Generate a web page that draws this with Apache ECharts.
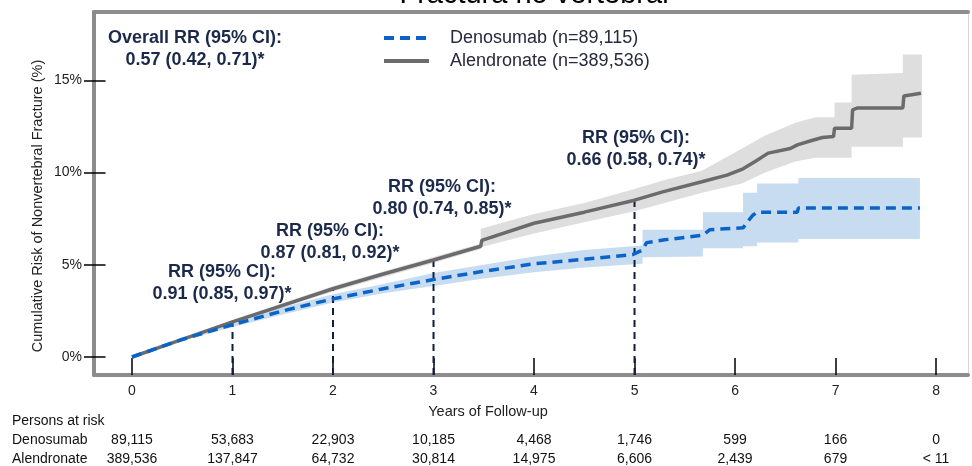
<!DOCTYPE html>
<html>
<head>
<meta charset="utf-8">
<script src="https://cdn.jsdelivr.net/npm/echarts@6/dist/echarts.min.js"></script>
<style>html,body{margin:0;padding:0;background:#fff}#c{width:972px;height:466px}</style>
</head>
<body>
<div id="c"></div>
<script>
// ---- data ----
const yearTicks = [0, 1, 2, 3, 4, 5, 6, 7, 8];
const riskTicks = [0, 5, 10, 15];
const riskDen = ['89,115', '53,683', '22,903', '10,185', '4,468', '1,746', '599', '166', '0'];
const riskAln = ['389,536', '137,847', '64,732', '30,814', '14,975', '6,606', '2,439', '679', '< 11'];

const denTime = [0, 0.5, 1, 1.5, 2, 2.5, 3, 3.5, 4, 4.5, 4.98, 5.08, 5.12, 5.3, 5.68, 5.75, 6.08, 6.12, 6.18, 6.22, 6.62, 6.63, 7.84];
const denRisk = [0, 0.95, 1.75, 2.5, 3.15, 3.7, 4.2, 4.65, 5.05, 5.3, 5.55, 5.8, 6.2, 6.35, 6.6, 6.9, 7.0, 7.3, 7.7, 7.85, 7.85, 8.07, 8.07];

const alnTime = [0, 0.5, 1, 1.5, 2, 2.5, 3, 3.47, 3.48, 4, 4.5, 5, 5.28, 5.67, 5.92, 6.08, 6.2, 6.33, 6.55, 6.62, 6.78, 6.87, 6.98, 6.99, 7.16, 7.17, 7.22, 7.67, 7.68, 7.85];
const alnRisk = [0, 0.95, 1.9, 2.8, 3.7, 4.5, 5.26, 6.0, 6.32, 7.25, 7.85, 8.5, 8.95, 9.5, 9.86, 10.2, 10.6, 11.05, 11.3, 11.5, 11.76, 11.9, 11.95, 12.4, 12.4, 13.4, 13.5, 13.5, 14.15, 14.3];

const denBandTime = [0, 0.5, 1, 1.5, 2, 2.5, 3, 3.5, 4, 4.5, 5.08, 5.08, 5.68, 5.68, 6.08, 6.08, 6.22, 6.22, 6.63, 6.63, 7.84];
const denBandLo   = [0, 0.88, 1.62, 2.3, 2.95, 3.45, 3.85, 4.25, 4.6, 4.85, 5.05, 5.4, 5.45, 5.9, 5.9, 6.0, 6.0, 6.2, 6.2, 6.4, 6.4];
const denBandHi   = [0, 1.02, 1.88, 2.7, 3.4, 3.95, 4.55, 5.0, 5.45, 5.8, 6.05, 6.9, 6.9, 7.85, 7.85, 8.9, 8.9, 9.4, 9.4, 9.7, 9.7];

const alnBandTime = [0, 1, 2, 3, 3.47, 3.47, 4, 4.5, 5, 5.3, 5.67, 6.07, 6.3, 6.6, 6.8, 6.99, 6.99, 7.16, 7.16, 7.67, 7.67, 7.86];
const alnBandLo   = [0, 1.8, 3.55, 5.1, 5.85, 5.95, 6.7, 7.3, 7.9, 8.35, 8.9, 9.4, 10.0, 10.6, 10.8, 10.8, 10.8, 10.8, 11.4, 11.4, 11.9, 11.9];
const alnBandHi   = [0, 2.0, 3.85, 5.42, 6.15, 6.95, 7.75, 8.35, 9.1, 9.6, 10.1, 11.3, 12.0, 12.7, 13.0, 13.0, 13.8, 13.8, 15.3, 15.4, 16.4, 16.4];

const rrTime = [1, 2, 3, 5];
const rrTop = [1.9, 3.7, 5.26, 8.5];
const rrHead = 'RR (95% CI):';
const rrValue = ['0.91 (0.85, 0.97)*', '0.87 (0.81, 0.92)*', '0.80 (0.74, 0.85)*', '0.66 (0.58, 0.74)*'];
const overallText = ['Overall RR (95% CI):', '0.57 (0.42, 0.71)*'];
const denName = 'Denosumab (n=89,115)';
const alnName = 'Alendronate (n=389,536)';
const titleText = 'Fractura no vertebral';

// ---- layout / style ----
const X_MIN = -0.378, X_MAX = 8.318;
const Y_MIN = -0.976, Y_MAX = 18.70;
const FONT = '"Liberation Sans", Arial, sans-serif';
const FRAME = '#8c8c8c';
const NAVY = '#1b2a4a';
const rrPos = [[222, 283.5], [330, 242.5], [442, 198.5], [636, 149.5]];

function bandSeries(times, lo, hi, color) {
  return {
    type: 'custom', silent: true, clip: true, z: 1,
    data: times.map((t, i) => [t, lo[i], hi[i]]),
    encode: { x: 0, y: [1, 2] },
    renderItem: function (params, api) {
      if (params.dataIndex !== 0) return null;
      const pts = [];
      for (let i = 0; i < times.length; i++) pts.push(api.coord([times[i], hi[i]]));
      for (let i = times.length - 1; i >= 0; i--) pts.push(api.coord([times[i], lo[i]]));
      return { type: 'polygon', shape: { points: pts }, style: { fill: color } };
    }
  };
}

const graphics = [];
graphics.push({ type: 'text', x: 534, y: -5, style: { text: titleText, font: '29px ' + FONT, fill: '#000', align: 'center', verticalAlign: 'middle', textAlign: 'center', textVerticalAlign: 'middle' } });
graphics.push({ type: 'text', x: 38, y: 206, rotation: Math.PI / 2, style: { text: 'Cumulative Risk of Nonvertebral Fracture (%)', font: '14.5px ' + FONT, fill: '#222', align: 'center', verticalAlign: 'middle', textAlign: 'center', textVerticalAlign: 'middle' } });
graphics.push({ type: 'text', x: 488, y: 412, style: { text: 'Years of Follow-up', font: '14.5px ' + FONT, fill: '#222', align: 'center', verticalAlign: 'middle', textAlign: 'center', textVerticalAlign: 'middle' } });
graphics.push({ type: 'text', x: 195, y: 49, style: { text: overallText.join('\n'), font: 'bold 18px ' + FONT, lineHeight: 22, fill: NAVY, align: 'center', verticalAlign: 'middle', textAlign: 'center', textVerticalAlign: 'middle' } });
rrValue.forEach((v, i) => {
  graphics.push({ type: 'text', x: rrPos[i][0], y: rrPos[i][1], style: { text: rrHead + '\n' + v, font: 'bold 18px ' + FONT, lineHeight: 22, fill: NAVY, align: 'center', verticalAlign: 'middle', textAlign: 'center', textVerticalAlign: 'middle' } });
});
[['Persons at risk', 421], ['Denosumab', 440], ['Alendronate', 459]].forEach(r => {
  graphics.push({ type: 'text', x: 12, y: r[1], style: { text: r[0], font: '14px ' + FONT, fill: '#111', align: 'left', verticalAlign: 'middle', textAlign: 'left', textVerticalAlign: 'middle' } });
});

const baseX = { type: 'value', min: X_MIN, max: X_MAX, splitLine: { show: false } };
const baseY = { type: 'value', min: Y_MIN, max: Y_MAX, splitLine: { show: false } };

const option = {
  animation: false,
  backgroundColor: '#fff',
  grid: { left: 94, right: 4, top: 12, bottom: 91, containLabel: false },
  legend: {
    data: [denName, alnName], orient: 'vertical', left: 377, top: 24,
    itemWidth: 45, itemHeight: 14, itemGap: 5,
    itemStyle: { opacity: 0, borderWidth: 0 },
    lineStyle: { width: 4 },
    textStyle: { fontSize: 18, fontFamily: FONT, color: '#262a3c', lineHeight: 18, padding: [0, 0, 0, 16] },
    selectedMode: false
  },
  xAxis: [
    Object.assign({}, baseX, {
      position: 'bottom',
      axisLine: { show: true, onZero: false, lineStyle: { color: FRAME, width: 4 } },
      axisTick: { show: true, inside: true, length: 17, customValues: yearTicks, lineStyle: { color: '#000', width: 1.5 } },
      axisLabel: { show: true, margin: 9, customValues: yearTicks, fontSize: 14, fontFamily: FONT, color: '#222' }
    }),
    Object.assign({}, baseX, {
      position: 'bottom', offset: 58,
      axisLine: { show: false, onZero: false }, axisTick: { show: false },
      axisLabel: { show: true, margin: 0, customValues: yearTicks, fontSize: 14, fontFamily: FONT, color: '#111', formatter: v => riskDen[Math.round(v)] }
    }),
    Object.assign({}, baseX, {
      position: 'bottom', offset: 77,
      axisLine: { show: false, onZero: false }, axisTick: { show: false },
      axisLabel: { show: true, margin: 0, customValues: yearTicks, fontSize: 14, fontFamily: FONT, color: '#111', formatter: v => riskAln[Math.round(v)] }
    }),
    Object.assign({}, baseX, {
      position: 'top',
      axisLine: { show: true, onZero: false, lineStyle: { color: FRAME, width: 4 } },
      axisTick: { show: false }, axisLabel: { show: false }
    })
  ],
  yAxis: [
    Object.assign({}, baseY, {
      position: 'left',
      axisLine: { show: true, onZero: false, lineStyle: { color: FRAME, width: 4 } },
      axisTick: { show: true, inside: false, length: 10, customValues: riskTicks, lineStyle: { color: '#000', width: 1.5 } },
      axisLabel: { show: true, margin: 12, customValues: riskTicks, fontSize: 14, fontFamily: FONT, color: '#222', formatter: v => v + '%' }
    }),
    Object.assign({}, baseY, {
      position: 'left', offset: 0,
      axisLine: { show: false, onZero: false },
      axisTick: { show: true, inside: true, length: 11.5, customValues: riskTicks, lineStyle: { color: '#000', width: 1.5 } },
      axisLabel: { show: false }
    }),
    Object.assign({}, baseY, {
      position: 'right',
      axisLine: { show: true, onZero: false, lineStyle: { color: '#d6d6d6', width: 1 } },
      axisTick: { show: false }, axisLabel: { show: false }
    })
  ],
  series: [
    bandSeries(alnBandTime, alnBandLo, alnBandHi, '#dedede'),
    bandSeries(denBandTime, denBandLo, denBandHi, '#c8dcf1'),
    {
      type: 'custom', silent: true, clip: false, z: 3,
      data: rrTime.map((t, i) => [t, rrTop[i]]),
      encode: { x: 0, y: 1 },
      renderItem: function (params, api) {
        const p1 = api.coord([api.value(0), Y_MIN]);
        const p2 = api.coord([api.value(0), api.value(1)]);
        return { type: 'line', shape: { x1: p1[0], y1: p1[1], x2: p2[0], y2: p2[1] }, style: { stroke: '#0f1e3c', lineWidth: 2, lineDash: [7, 5] } };
      }
    },
    {
      name: alnName, type: 'line', z: 4, symbol: 'none', showSymbol: false,
      data: alnTime.map((t, i) => [t, alnRisk[i]]),
      lineStyle: { color: '#6b6b6b', width: 3.5 }, itemStyle: { color: '#6b6b6b' }
    },
    {
      name: denName, type: 'line', z: 5, symbol: 'none', showSymbol: false,
      data: denTime.map((t, i) => [t, denRisk[i]]),
      lineStyle: { color: '#0a64c8', width: 3.5, type: [10, 6], cap: 'butt' }, itemStyle: { color: '#0a64c8' }
    }
  ],
  graphic: graphics
};

const chart = echarts.init(document.getElementById('c'), null, { renderer: 'canvas' });
chart.setOption(option);
</script>
</body>
</html>
